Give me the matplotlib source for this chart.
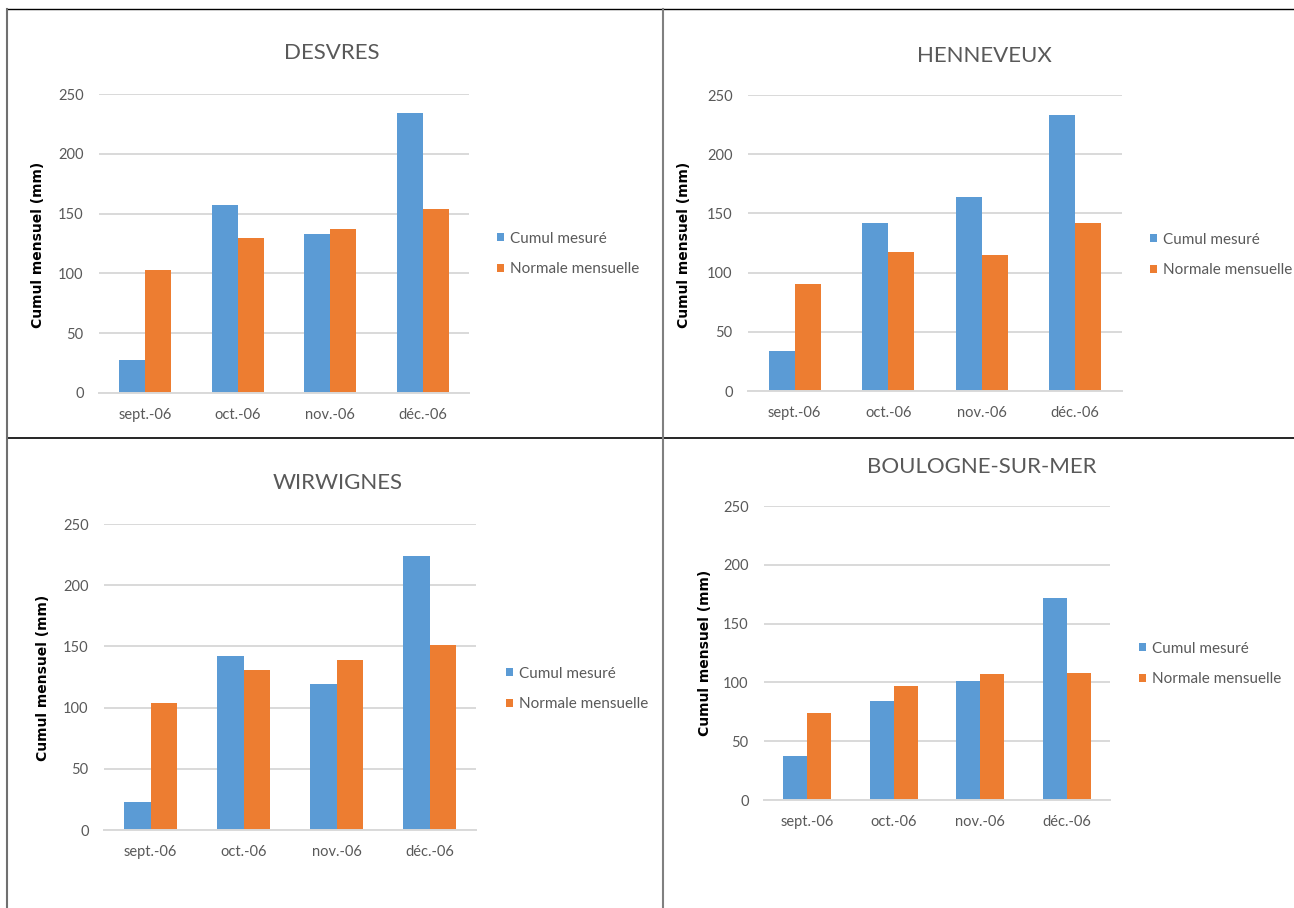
import numpy as np
import matplotlib
matplotlib.use("Agg")
import matplotlib.pyplot as plt
from matplotlib.lines import Line2D

# data (mm)
months = ["sept.-06", "oct.-06", "nov.-06", "déc.-06"]
stations = ["DESVRES", "HENNEVEUX", "WIRWIGNES", "BOULOGNE-SUR-MER"]
desvres_mesure = [28, 157, 133, 234]
desvres_normale = [103, 130, 137, 154]
henneveux_mesure = [34, 142, 164, 233]
henneveux_normale = [90, 117, 115, 142]
wirwignes_mesure = [23, 142, 119, 224]
wirwignes_normale = [104, 131, 139, 151]
boulogne_mesure = [37, 84, 101, 172]
boulogne_normale = [74, 97, 107, 108]
series_names = ["Cumul mesuré", "Normale mensuelle"]
yticks = [0, 50, 100, 150, 200, 250]

mesure = [desvres_mesure, henneveux_mesure, wirwignes_mesure, boulogne_mesure]
normale = [desvres_normale, henneveux_normale, wirwignes_normale, boulogne_normale]

BLUE = "#5B9BD5"
ORANGE = "#ED7D31"
GREY = "#595959"
GRID = "#D9D9D9"
FONT = "Lato"

W, H = 1294, 908
fig = plt.figure(figsize=(W / 100, H / 100), dpi=100)

# pixel layout of each panel: axes box (left, right, top, bottom), title centre,
# ylabel centre, legend (marker left x, row centre y)
layout = [
    dict(box=(99, 469, 94, 393), title=(332, 53), ylab=(45, 245), leg=(497, 254)),
    dict(box=(748, 1122, 95, 391), title=(984, 56), ylab=(691, 245), leg=(1150, 255)),
    dict(box=(104, 476, 524, 830), title=(338, 483), ylab=(50, 678), leg=(506, 689)),
    dict(box=(764, 1110, 506, 800), title=(982, 467), ylab=(712, 653), leg=(1139, 664)),
]


def fx(px):
    return px / W


def fy(py):
    return 1 - py / H


x = np.arange(len(months))
w = 0.28

for i, lay in enumerate(layout):
    l, r, t, b = lay["box"]
    ax = fig.add_axes([fx(l), fy(b), (r - l) / W, (b - t) / H])
    b1 = ax.bar(x - w / 2, mesure[i], w, color=BLUE, label=series_names[0], zorder=2)
    b2 = ax.bar(x + w / 2, normale[i], w, color=ORANGE, label=series_names[1], zorder=2)
    ax.set_xlim(-0.5, len(months) - 0.5)
    ax.set_ylim(0, 250)
    ax.set_yticks(yticks)
    ax.set_xticks(x)
    ax.set_xticklabels(months)
    ax.yaxis.grid(True, color=GRID, lw=1.4, zorder=0)
    ax.set_axisbelow(True)
    for s in ["top", "right", "left"]:
        ax.spines[s].set_visible(False)
    ax.spines["bottom"].set_color(GRID)
    ax.spines["bottom"].set_linewidth(1.4)
    ax.tick_params(axis="both", length=0, colors=GREY, labelsize=10.5)
    ax.tick_params(axis="y", pad=11)
    ax.tick_params(axis="x", pad=11)
    for lab in ax.get_xticklabels() + ax.get_yticklabels():
        lab.set_fontfamily(FONT)

    ax.set_ylabel("Cumul mensuel (mm)", fontsize=10, fontweight="bold",
                  family="DejaVu Sans", color="black")
    ax.yaxis.set_label_coords((lay["ylab"][0] - l) / (r - l),
                              (b - lay["ylab"][1]) / (b - t))

    fig.text(fx(lay["title"][0]), fy(lay["title"][1]), stations[i],
             ha="center", va="center", fontsize=16, color=GREY, family=FONT)

    ax.legend(handles=[b1, b2], loc="center left",
              bbox_to_anchor=(fx(lay["leg"][0]), fy(lay["leg"][1])),
              bbox_transform=fig.transFigure, frameon=False,
              prop=dict(family=FONT, size=11), labelcolor=GREY,
              handlelength=0.45, handleheight=0.45, handletextpad=0.4,
              borderpad=0, borderaxespad=0, labelspacing=1.1)

# table borders round the panels
fig.add_artist(Line2D([fx(7), 1], [fy(9), fy(9)], color="black", lw=1.0))
fig.add_artist(Line2D([fx(7), 1], [fy(438), fy(438)], color="black", lw=1.2))
fig.add_artist(Line2D([fx(7), fx(7)], [fy(9), 0], color="#707070", lw=1.5))
fig.add_artist(Line2D([fx(663), fx(663)], [fy(9), 0], color="#808080", lw=1.5))

fig.savefig("out.png", dpi=100, facecolor="white")
